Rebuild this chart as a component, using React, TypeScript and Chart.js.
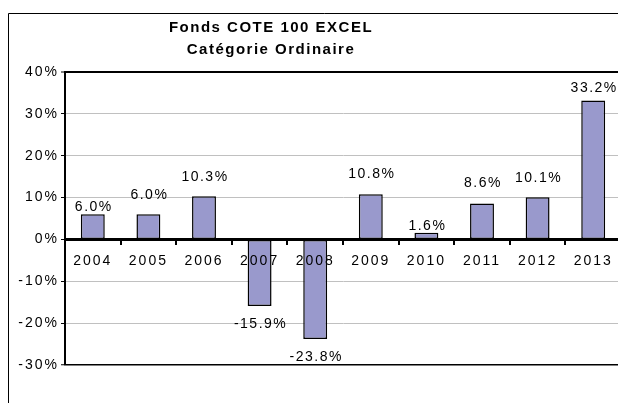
import React, { useEffect, useRef } from "react";
import { Chart, registerables } from "chart.js";

Chart.register(...registerables);

const categories = ["2004", "2005", "2006", "2007", "2008", "2009", "2010", "2011", "2012", "2013"];
const returns = [6.0, 6.0, 10.3, -15.9, -23.8, 10.8, 1.6, 8.6, 10.1, 33.2];
const valueLabels = ["6.0%", "6.0%", "10.3%", "-15.9%", "-23.8%", "10.8%", "1.6%", "8.6%", "10.1%", "33.2%"];
const titleLines = ["Fonds COTE 100 EXCEL", "Catégorie Ordinaire"];
const yMin = -30;
const yMax = 40;
const yStep = 10;

// label distance (px) from bar end, style only
const labelGap = [7, 19, 19, 18, 18, 20, 7, 20, 19, 12];

const FONT = "'Liberation Sans', Arial, Helvetica, sans-serif";

export default function App() {
  const ref = useRef<HTMLCanvasElement | null>(null);

  useEffect(() => {
    const canvas = ref.current;
    if (!canvas) return;

    const decor = {
      id: "decor",
      beforeDraw(chart: any) {
        const ctx = chart.ctx;
        ctx.letterSpacing = "2px";
        ctx.save();
        ctx.fillStyle = "#ffffff";
        ctx.fillRect(0, 0, chart.width, chart.height);
        ctx.strokeStyle = "#000000";
        ctx.lineWidth = 1;
        ctx.beginPath();
        ctx.moveTo(8.5, chart.height);
        ctx.lineTo(8.5, 13.5);
        ctx.lineTo(chart.width, 13.5);
        ctx.stroke();
        // title
        ctx.fillStyle = "#000000";
        ctx.font = `bold 15px ${FONT}`;
        ctx.letterSpacing = "1.5px";
        ctx.textAlign = "center";
        ctx.textBaseline = "middle";
        ctx.fillText(titleLines[0], 271, 28);
        ctx.fillText(titleLines[1], 271, 50);
        ctx.restore();
      },
      afterDraw(chart: any) {
        const ctx = chart.ctx;
        const meta = chart.getDatasetMeta(0);
        ctx.save();
        ctx.fillStyle = "#000000";
        ctx.font = `14px ${FONT}`;
        ctx.letterSpacing = "1.5px";
        ctx.textAlign = "center";
        ctx.textBaseline = "middle";
        meta.data.forEach((el: any, i: number) => {
          const v = returns[i];
          const y = v >= 0 ? el.y - labelGap[i] : el.y + labelGap[i];
          ctx.fillText(valueLabels[i], el.x + 1, y);
        });
        ctx.restore();
      },
    };

    const chart = new Chart(canvas, {
      type: "bar",
      data: {
        labels: categories,
        datasets: [
          {
            data: returns,
            backgroundColor: "#9999CC",
            borderColor: "#000000",
            borderWidth: 1.5,
            borderSkipped: false,
            barPercentage: 0.43,
            categoryPercentage: 1,
          },
        ],
      },
      options: {
        responsive: false,
        animation: false,
        devicePixelRatio: 1,
        layout: { padding: { top: 72, left: 0, right: 19, bottom: 38 } },
        plugins: {
          legend: { display: false },
          title: { display: false },
          tooltip: { enabled: false },
        },
        scales: {
          y: {
            min: yMin,
            max: yMax,
            afterFit(scale: any) {
              scale.width = 65;
            },
            ticks: {
              stepSize: yStep,
              color: "#000000",
              font: { size: 14, family: FONT },
              padding: 2,
              callback: (v: any) => `${v}%`,
            },
            grid: {
              color: (c: any) => {
                const v = c.tick ? c.tick.value : 0;
                if (v === yMax || v === yMin || v === 0) return "#000000";
                return "#c0c0c0";
              },
              lineWidth: (c: any) => {
                const v = c.tick ? c.tick.value : 0;
                if (v === yMax) return 2;
                if (v === yMin) return 1.5;
                return 1;
              },
              tickColor: "#000000",
              tickLength: 4,
              tickWidth: 1,
            },
            border: { color: "#000000", width: 2 },
          },
          x: {
            type: "category",
            position: { y: 0 } as any,
            offset: true,
            ticks: {
              color: "#000000",
              font: { size: 14, family: FONT },
              padding: 9,
              maxRotation: 0,
              autoSkip: false,
              z: 1,
            },
            grid: {
              offset: true,
              drawOnChartArea: false,
              drawTicks: true,
              tickLength: 4,
              color: "#000000",
              tickColor: "#000000",
              tickWidth: 2,
              lineWidth: 2,
              z: 1,
            },
            border: { color: "#000000", width: 3, z: 1 },
          },
        },
      },
      plugins: [decor],
    } as any);

    return () => chart.destroy();
  }, []);

  return (
    <div
      style={{
        position: "fixed",
        left: 0,
        top: 0,
        width: 618,
        height: 403,
        overflow: "hidden",
        background: "#ffffff",
      }}
    >
      <canvas ref={ref} width={640} height={403} style={{ display: "block", width: 640, height: 403 }} />
    </div>
  );
}
